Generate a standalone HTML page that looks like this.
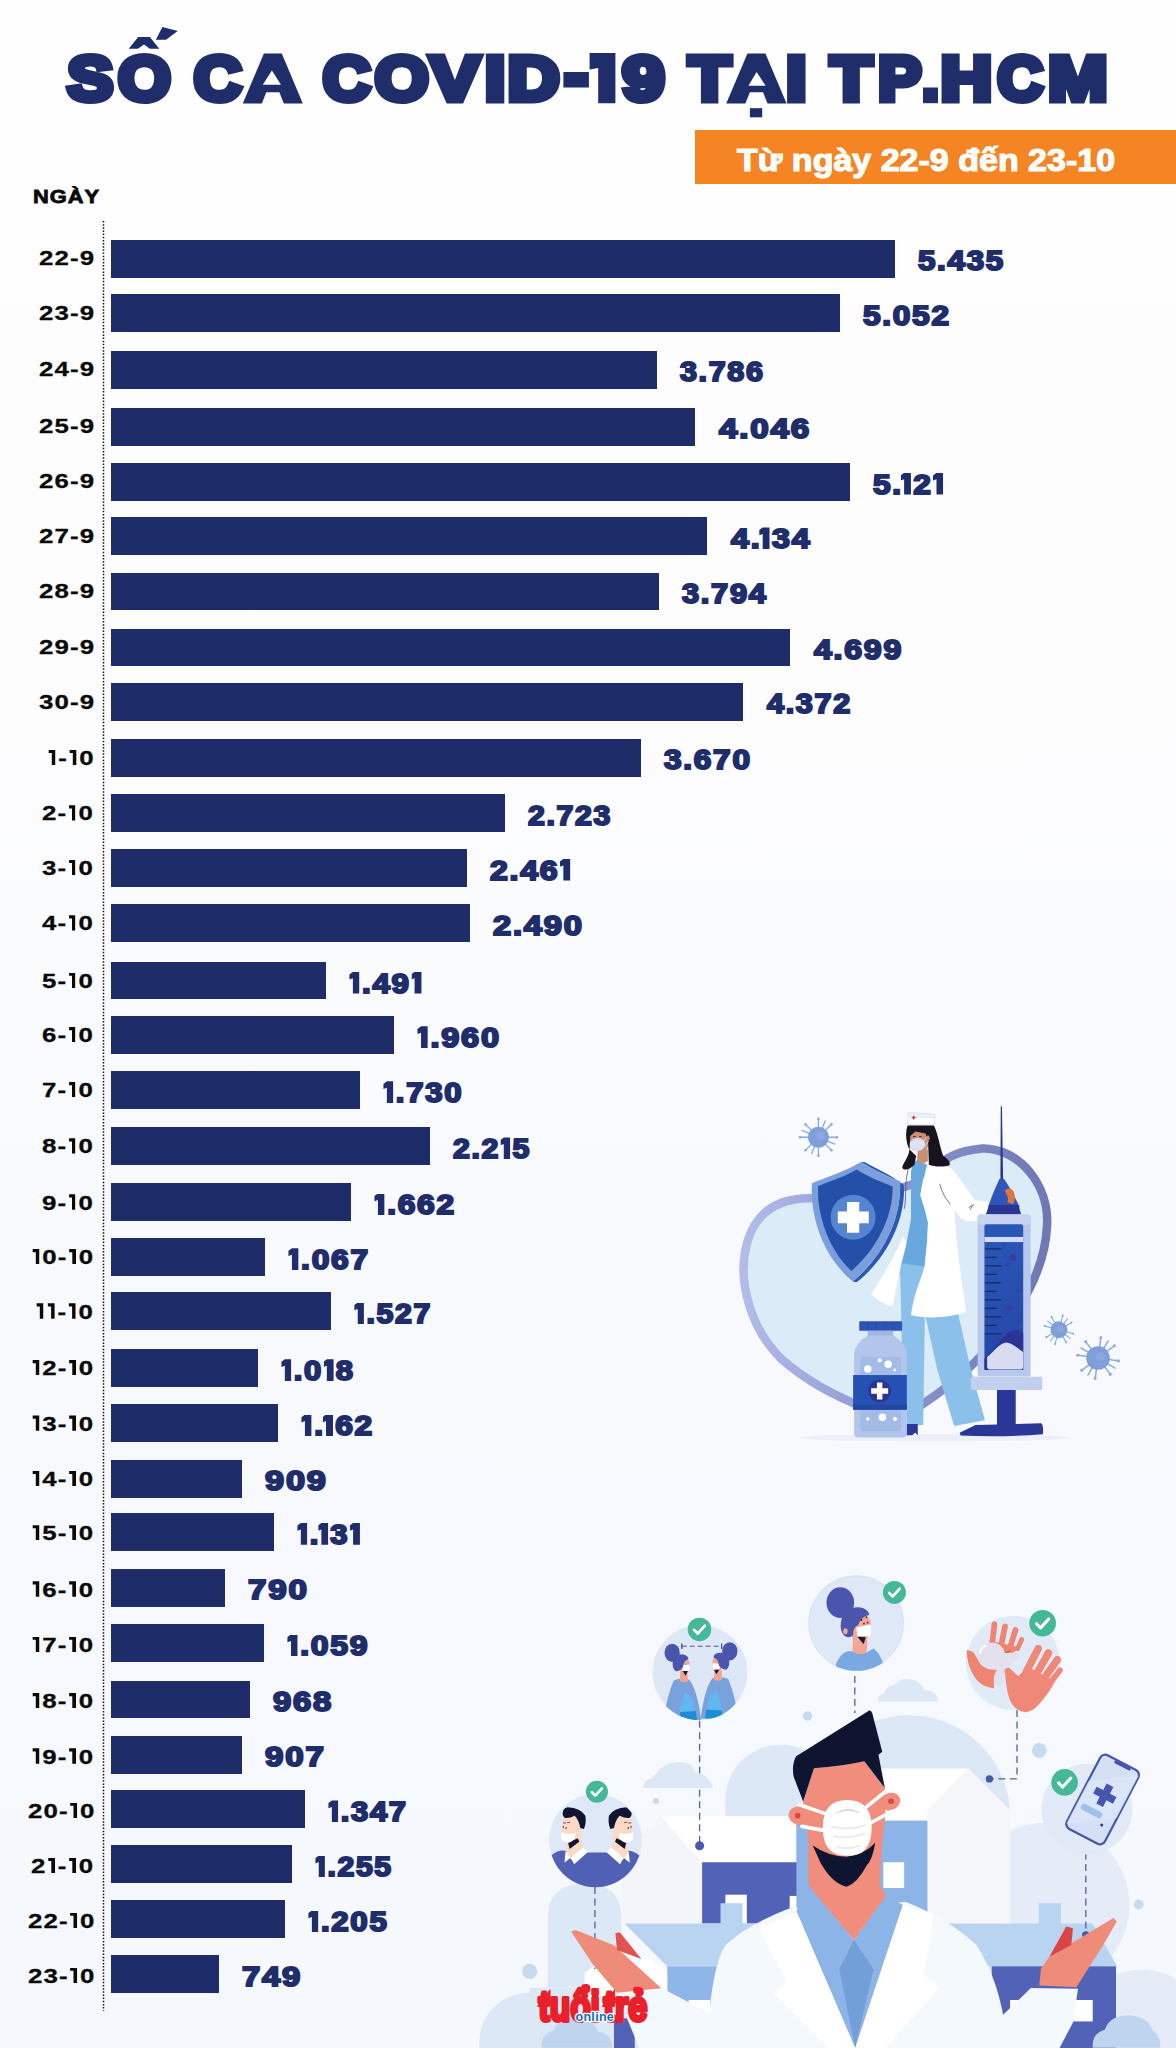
<!DOCTYPE html>
<html lang="vi"><head><meta charset="utf-8"><title>Số ca COVID-19 tại TP.HCM</title>
<style>
html,body{margin:0;padding:0}
body{width:1176px;height:2048px;position:relative;overflow:hidden;font-family:"Liberation Sans",sans-serif;
background:linear-gradient(180deg,#fefefe 0px,#fdfdfe 700px,#f7f9fd 1300px,#f5f8fd 2048px)}
.banner{position:absolute;left:694.8px;top:129.8px;width:482px;height:54px;background:#f58423}
.btxt{position:absolute;left:737.0px;top:141.2px;font-weight:bold;font-size:31px;line-height:40px;-webkit-text-stroke:1.2px #fff;color:#fff;white-space:nowrap;transform-origin:0 50%;transform:scaleX(1.0971)}
.ngay{position:absolute;left:33.4px;top:185.3px;font-weight:bold;font-size:19px;line-height:24px;letter-spacing:0.8px;-webkit-text-stroke:0.8px #0a0a0a;color:#0a0a0a;white-space:nowrap;transform-origin:0 50%;transform:scaleX(1.1518)}
.bar{position:absolute;left:110.8px;height:37.9px;background:#1e2d69}
.day{position:absolute;font-weight:bold;font-size:21px;line-height:24px;letter-spacing:0.9px;-webkit-text-stroke:0.3px #0a0a0a;color:#0a0a0a;white-space:nowrap;transform-origin:0 50%;transform:scaleX(1.23)}
.day i{display:inline-block;overflow:hidden;font-size:0;letter-spacing:0;width:5.8px;height:15.3px;background:#0a0a0a;clip-path:polygon(0 0,100% 0,100% 100%,47% 100%,47% 21%,0 21%);margin:0 2.2px -0.15px 1.2px}
.val{position:absolute;font-weight:bold;font-size:27.5px;line-height:34px;letter-spacing:1.5px;-webkit-text-stroke:2px #1f2d6b;color:#1f2d6b;white-space:nowrap;transform-origin:0 50%;transform:scaleX(1.135)}
.val i{display:inline-block;overflow:hidden;font-size:0;letter-spacing:0;width:9.1px;height:21.7px;background:#1f2d6b;clip-path:polygon(33.3% 0,100% 0,100% 100%,33.3% 100%,33.3% 30%,0 36%,0 12%);margin:0 1.9px -1px 0.4px}
.val i.p{margin-left:-1.9px}
svg{position:absolute;left:0;top:0}
</style></head><body>
<div class="banner"></div><div class="btxt">Từ ngày 22-9 đến 23-10</div>
<div class="ngay">NGÀY</div>
<svg width="1176" height="2048" viewBox="0 0 1176 2048"><g font-family="Liberation Sans, sans-serif" fill="#1f2d6b" stroke="#1f2d6b" font-weight="bold" font-size="63" stroke-width="7" stroke-linejoin="miter" stroke-miterlimit="2"><text transform="translate(67.46,100.2) scale(1.0822,1)">S</text><text transform="translate(118.37,100.2) scale(1.0686,1)">O</text><text transform="translate(193.94,100.2) scale(1.0408,1)">C</text><text transform="translate(246.64,100.2) scale(1.1471,1)">A</text><text transform="translate(322.94,100.2) scale(1.0408,1)">C</text><text transform="translate(375.09,100.2) scale(1.0922,1)">O</text><text transform="translate(430.28,100.2) scale(1.1700,1)">V</text><text transform="translate(485.05,100.2) scale(1.1500,1)">I</text><text transform="translate(507.87,100.2) scale(1.1333,1)">D</text><text transform="translate(622.39,100.2) scale(1.1946,1)">9</text><text transform="translate(688.86,100.2) scale(1.0864,1)">T</text><text transform="translate(730.26,100.2) scale(1.1529,1)">A</text><text transform="translate(786.15,100.2) scale(1.1500,1)">I</text><text transform="translate(830.43,100.2) scale(1.0773,1)">T</text><text transform="translate(878.28,100.2) scale(1.0238,1)">P</text><text transform="translate(940.77,100.2) scale(1.1273,1)">H</text><text transform="translate(997.60,100.2) scale(0.9980,1)">C</text><text transform="translate(1048.27,100.2) scale(1.1275,1)">M</text></g><g fill="#1f2d6b"><polygon points="128.7,48.8 138.2,37.1 149.8,37.1 159.3,48.8 149.8,48.8 144,44.6 137.9,48.8"/><polygon points="155.9,39.8 162.4,26.9 177.7,31 166.1,39.8"/><rect x="749.9" y="108.2" width="12.3" height="9.1"/><rect x="563.4" y="72" width="25.5" height="15.5"/><rect x="923" y="87.5" width="15" height="15.7"/><polygon points="589.6,53 615.4,53 615.4,103.2 598.2,103.2 598.2,68 589.6,69.6"/></g><g fill="#fefefe"><polygon points="271.9,70.5 281,84.8 262.8,84.8"/><polygon points="756.6,72 765.6,85.8 748.4,85.8"/></g><line x1="103.5" y1="221" x2="103.5" y2="2011" stroke="#111" stroke-width="1.5" stroke-dasharray="1.5 1.65"/></svg>
<svg width="1176" height="2048" viewBox="0 0 1176 2048">
<defs>
<clipPath id="pg"><rect x="0" y="0" width="1176" height="2048"/></clipPath>
<clipPath id="c1"><circle cx="699.6" cy="1672.7" r="47.5"/></clipPath>
<clipPath id="c2"><circle cx="856.4" cy="1623" r="47.8"/></clipPath>
<clipPath id="c4"><circle cx="595.5" cy="1841.2" r="46"/></clipPath>
<g id="chk"><circle r="12" fill="#45b899"/><path d="M-5.500 0.500L-1.800 4.200L5.500-3.800" fill="none" stroke="#fff" stroke-width="2.800" stroke-linecap="round" stroke-linejoin="round"/></g>
</defs>
<g transform="translate(456 1700) scale(0.61224)">
<!-- clouds -->
<g fill="#e5ecf8"><circle cx="965" cy="335" r="135"/><circle cx="1120" cy="545" r="105"/><path d="M900 250H1000V570H900Z"/></g>
<g fill="#dde8f6">
<circle cx="740" cy="190" r="165"/><circle cx="530" cy="163" r="90"/><path d="M440 160H900V570H440Z"/>
<circle cx="120" cy="560" r="82"/>
<path d="M150 470V355Q150 300 210 300Q270 300 270 355V470Z"/>
<rect x="120" y="470" width="300" height="100"/>
<path d="M305 143Q307 128 325 128Q330 105 358 102Q388 102 395 128Q418 128 420 143Z"/>
</g>
<!-- buildings -->
<path d="M270 365V255L335 190H555V365Z" fill="#fff"/>
<path d="M270 365V255L335 190L402 265V365Z" fill="#f4f5fa"/>
<rect x="402" y="265" width="160" height="100" fill="#5263b7"/>
<path d="M440 318h35v47h-35z" fill="#fff"/>
<path d="M432 332h36v33h-36z" fill="#b9d4f1"/>
<rect x="545" y="320" width="12" height="20" fill="#fff"/>
<path d="M694 112H837L905 180V365H694Z" fill="#fff"/>
<path d="M770 180L837 112L905 180V365H770Z" fill="#f5f6fa"/>
<rect x="556" y="197" width="214" height="150" fill="#8db4e6"/>
<rect x="698" y="265" width="34" height="42" fill="#fff"/>
<path d="M275 365H1040L1080 435H345Z" fill="#b9d4f1"/>
<rect x="952" y="332" width="36" height="34" fill="#b9d4f1"/>
<rect x="345" y="435" width="100" height="70" fill="#8fb6e8"/>
<path d="M210 500V445L240 425H320L345 445V500Z" fill="#fff"/>
<rect x="875" y="435" width="203" height="135" fill="#5263b7"/>
<rect x="905" y="490" width="35" height="35" fill="#fff"/><rect x="1005" y="490" width="35" height="35" fill="#fff"/>
<rect x="258" y="520" width="34" height="50" fill="#5263b7"/>
<rect x="380" y="490" width="35" height="35" fill="#fff"/>
<!-- small dark clouds bottom -->
<g fill="#bfd5ef"><path d="M140 568Q138 545 160 540Q165 520 195 520Q225 520 232 542Q255 545 255 568Z"/><path d="M1040 568Q1038 545 1060 538Q1068 515 1100 515Q1130 517 1138 540Q1152 548 1150 568Z"/></g>
</g>
<!-- dashed connectors -->
<g fill="none" stroke="#52619f" stroke-width="1.300" stroke-dasharray="7 4.500">
<path d="M699.6 1720.700V1842"/><path d="M854.800 1676V1713"/><path d="M1017 1710V1778.900H993"/><path d="M594.900 1887V1969"/><path d="M1085.800 1841V1931"/>
</g>
<g fill="#4a58a8"><circle cx="699.6" cy="1845.800" r="4.500"/><circle cx="989.400" cy="1778.900" r="3.700"/><circle cx="1085.800" cy="1935" r="3.700"/></g>
<g fill="#c6daf0"><circle cx="807.500" cy="1716" r="4.700"/><circle cx="656" cy="1801" r="3"/><circle cx="1039.300" cy="1750.300" r="7.400"/><circle cx="529.700" cy="1971.300" r="7.600"/><circle cx="1138.700" cy="1904.500" r="4.900"/></g>
<g transform="translate(456 1700) scale(0.61224)">
<!-- doctor: left sleeve + hand -->
<path d="M262 478L335 470L430 520L420 570H300Z" fill="#f3f9fd"/>
<path d="M187.900 378.200L195.400 375.700L257.900 400.700L335.400 470.700L262.900 478.200L222.900 430.700Z" fill="#ef8c79"/>
<path d="M260.400 380.700L267.900 379.700L302.900 423.200L262.900 408.200Z" fill="#e2554f"/>
<!-- right sleeve + hand -->
<path d="M952.700 466.200L955.500 438.700L969.200 419.500L1073.700 356.200L1079.200 361.700L1057.200 400.200L1013.200 469Z" fill="#ef8c79"/>
<path d="M969.200 419.500L996.700 370L1007.700 372.700L1005 400.200Z" fill="#d94545"/>
<path d="M880 470L892 515.700L939 470.600L1016 471.700L1007.700 526.700L985 570H840Z" fill="#f3f9fd"/>
<!-- coat body -->
<path d="M545 340Q480 365 440 400Q415 440 410 570H900Q895 470 850 400Q800 355 735 330Z" fill="#f3f9fd"/>
<!-- shirt -->
<path d="M575 300L556 345L652 568L730 335L702 318L650 392Z" fill="#8db4e6"/>
<path d="M650 392L626 440L652 568L682 440Z" fill="#739fd8"/>
<!-- lapels -->
<path d="M556 345L495 372L540 460L520 480L610 570H652Z" fill="#fff"/>
<path d="M730 335L780 350L765 450L790 470L700 570H652Z" fill="#fff"/>
<!-- face / neck -->
<path d="M584.700 111.500Q630 108 667 100L700.400 143.700L701.400 190L696 232L692 300L702 320L650 392L583 312L575.400 300L575.400 229L567 165.600Z" fill="#f08d7c"/>
<ellipse cx="561" cy="189" rx="18" ry="15" fill="#f08d7c" transform="rotate(12 561 189)"/><ellipse cx="709" cy="166" rx="17" ry="14" fill="#f08d7c" transform="rotate(-25 709 166)"/>
<ellipse cx="558" cy="189" rx="4.500" ry="5" fill="#d9474a"/><ellipse cx="710.500" cy="165.500" rx="5" ry="4.500" fill="#d9474a"/>
<!-- beard -->
<path d="M582.600 237.500Q610 256 638 256Q666 254 684.700 233.300Q680 262 671 270Q655 300 638 305Q615 300 596 267Z" fill="#0f1530"/>
<!-- hair -->
<path d="M674.300 17.700Q678 16 680 22L696.200 84.400L690 89.600L700.400 143.700L667 100Q630 108 584.700 111.500L567 165.600L551.400 125Q548 105 555.600 91.700Z" fill="#0f1530"/>
<!-- mask -->
<path d="M604.500 186L561 171M600.400 213L565 206.500M667 177.500L702 149M677.400 200.500L713 181.500" stroke="#fff" stroke-width="6" stroke-linecap="round"/>
<path d="M639 163.500Q679 163.500 679 208.500Q679 254.500 639 254.500Q599 254.500 599 208.500Q599 163.500 639 163.500Z" fill="#fff"/>
<path d="M612 207Q640 214 670 204M616 222Q640 228 668 218M622 240Q640 245 660 238" fill="none" stroke="#e9ebee" stroke-width="3"/>
<path d="M616 188Q640 168 662 186Q640 176 616 188Z" fill="#dcdde0"/>
</g>
<path d="M877.700 1701.400Q877 1695 884 1693.500Q886 1686 895 1684.500Q901 1677.500 910 1679.500Q920 1679 924 1690Q932 1690 936 1695Q938.500 1698 938.300 1701.400Z" fill="#dde8f6"/>
<path d="M644.500 1788Q644 1781 651 1780Q654 1773 663 1772Q668 1762 680 1762Q692 1762 696 1773Q704 1773 708 1779Q712 1782 711.800 1788Z" fill="#dde8f6"/>

<!-- icon 1: two women (zoom 9.8 base 640,1610) -->
<circle cx="700" cy="1672.400" r="47.400" fill="#dee7f6"/>
<g clip-path="url(#c1)"><g transform="translate(640 1610) scale(0.10204)">
<g id="w1">
<path d="M330 690Q400 660 480 680Q560 770 600 1080H230Q260 860 330 690Z" fill="#78a2dc"/>
<path d="M440 800L385 1010L560 1070L510 860Z" fill="#62b8ee"/>
<path d="M395 1000L545 990L560 1075L380 1075Z" fill="#1f8dd6"/>
<path d="M395 600L465 610L470 700Q430 720 390 690Z" fill="#f2a494"/>
<path d="M395 470Q470 450 485 520L480 600L400 640Z" fill="#f2a494"/>
<path d="M415 595L470 598L447 645Z" fill="#1b1d33"/>
<path d="M412 545L480 535Q492 570 478 598L415 598Z" fill="#fff"/>
<ellipse cx="315" cy="420" rx="75" ry="90" fill="#4a55ae"/>
<path d="M320 520Q330 430 420 435Q470 440 475 480Q430 490 420 560Q400 600 350 600Q315 570 320 520Z" fill="#4a55ae"/>
</g>
<use href="#w1" transform="translate(1195 -15) scale(-1 1)"/>
<path d="M410 355H800M410 330V382M800 330V382" stroke="#3b4a8c" stroke-width="9" stroke-dasharray="48 30" fill="none"/>
<path d="M410 330V382M800 330V382" stroke="#3b4a8c" stroke-width="9" fill="none"/>
</g></g>
<use href="#chk" transform="translate(699.500 1629.400) scale(0.98)"/>
<!-- icon 2: woman (zoom 9.8 base 800,1570) -->
<circle cx="856.100" cy="1623.100" r="47.400" fill="#dfe8f7" stroke="#d8e2f3" stroke-width="1"/>
<g clip-path="url(#c2)"><g transform="translate(800 1570) scale(0.10204)">
<path d="M340 960Q380 820 470 795L650 810L720 770Q790 820 830 960V1000H340Z" fill="#7aa8e2"/>
<path d="M520 640L660 660L655 800Q590 850 515 800Z" fill="#f4a795"/>
<path d="M540 450Q680 420 695 520L690 640L560 700L480 640Z" fill="#f4a795"/>
<path d="M560 650L645 658L622 728Z" fill="#1b1d33"/>
<path d="M552 560L690 535Q705 600 688 648L560 652Z" fill="#fff"/>
<ellipse cx="395" cy="320" rx="135" ry="150" fill="#4a55ae"/>
<path d="M400 520Q420 360 580 365Q670 380 680 440Q600 450 570 540Q520 560 520 640Q470 680 430 640Q390 590 400 520Z" fill="#4a55ae"/>
<ellipse cx="445" cy="600" rx="22" ry="30" fill="#f4a795"/>
<g fill="#3a2030"><circle cx="602" cy="490" r="9"/><circle cx="652" cy="462" r="9"/><circle cx="627" cy="525" r="9"/><circle cx="662" cy="515" r="9"/></g>
</g></g>
<use href="#chk" transform="translate(894.400 1592.400) scale(0.96)"/>
<!-- icon 3: hands (zoom 9.046 base 950,1600) -->
<circle cx="1013" cy="1663" r="47" fill="#e1eaf7"/>
<g transform="translate(950 1600) scale(0.11054)">
<g stroke="#ee8472" stroke-linecap="round" fill="none"><path d="M385 375L402 218M465 400L498 238M545 425L592 272" stroke-width="52"/><path d="M612 440L648 358" stroke-width="44"/></g>
<path d="M345 365L640 430L560 485L500 495L430 440Z" fill="#ee8472"/>
<path d="M480 455L515 480L545 455" stroke="#d9604f" stroke-width="12" fill="none"/>
<path d="M150 455Q215 450 240 520Q290 620 430 625Q385 700 400 800Q290 790 225 700Q155 600 150 455Z" fill="#ee8472"/>
<path d="M250 470Q280 390 400 385Q470 400 500 480Q600 470 640 500Q600 560 540 600Q480 640 470 760Q430 810 400 760Q385 690 425 630Q300 640 255 550Q240 510 250 470Z" fill="#e4e1ef"/>
<path d="M270 480Q280 430 320 415" stroke="#fff" stroke-width="18" fill="none" stroke-linecap="round"/>
<g stroke="#f08878" stroke-linecap="round" fill="none"><path d="M695 640L798 440M785 665L890 480M855 705L972 540" stroke-width="68"/><path d="M905 750L995 635" stroke-width="52"/><path d="M525 645L610 725" stroke-width="62"/></g>
<path d="M497 640Q505 800 540 900Q580 1000 680 1015Q750 1010 790 960Q900 840 945 740L700 600L600 710Z" fill="#f08878"/>
</g>
<use href="#chk" transform="translate(1042.600 1623.200) scale(1.11)"/>
<!-- icon 4: two men (zoom 9.8 base 540,1775) -->
<circle cx="595.600" cy="1840.300" r="46.400" fill="#dee8f6"/>
<g clip-path="url(#c4)"><g transform="translate(540 1775) scale(0.10204)">
<path d="M80 1120V820Q140 750 210 740L470 760H640L880 742Q960 760 1020 830V1120Z" fill="#5060b5"/>
<g id="m1">
<path d="M270 640L400 560L420 720L330 850L250 770Z" fill="#fbd9c5"/>
<path d="M225 420L345 400L400 470L405 600L290 680L215 640Z" fill="#fbd9c5"/>
<path d="M275 665L370 620L385 655L290 725Z" fill="#0f1530"/>
<path d="M205 560Q280 590 350 565Q345 640 290 662Q230 665 210 630Z" fill="#fff"/>
<path d="M225 400Q210 330 270 315Q400 320 445 400Q455 480 430 530L395 520Q380 440 340 400Q280 430 240 420Z" fill="#0f1530"/>
<path d="M250 755L300 810L240 860Z" fill="#fff"/>
<path d="M300 810L420 710L470 755L335 875Z" fill="#fff"/>
<g fill="#3a2030"><circle cx="228" cy="510" r="8"/><circle cx="255" cy="520" r="8"/></g>
<path d="M225 470h30M265 465h30" stroke="#3a2030" stroke-width="7"/>
</g>
<use href="#m1" transform="translate(1120 0) scale(-1 1)"/>
</g></g>
<use href="#chk" transform="translate(596.900 1791.800) scale(0.92)"/>
<!-- icon 5: phone -->
<circle cx="1087" cy="1809.200" r="45.400" fill="#e2eaf7"/>
<g transform="translate(1102.600 1799.500) rotate(27.500)">
<rect x="-21.500" y="-41.500" width="43" height="83" rx="5.500" fill="#d4e0f5" stroke="#4655a8" stroke-width="2.200"/>
<path d="M-21 -10L21 -38V10L-21 38Z" fill="#dde7f8" opacity="0.700"/>
<rect x="-7" y="-41" width="18" height="3.200" rx="1.500" fill="#4655a8"/>
<path d="M-3.800-16h7.600v7.400h7.400v7.600h-7.400v7.400h-7.600v-7.400h-7.400v-7.600h7.400z" fill="#4655b0"/>
<rect x="-16" y="12" width="23" height="6.500" rx="2.500" fill="#9fc0ea"/>
<circle cx="11" cy="23" r="1.500" fill="#39406e"/>
</g>
<use href="#chk" transform="translate(1064.600 1782.400) scale(1.11)"/>
</svg>

<div class="bar" style="top:239.8px;width:784.2px"></div>
<div class="day" style="top:246.4px;left:38.6px">22-9</div>
<div class="val" style="top:244.1px;left:917.9px;transform:scaleX(1.138)">5.435</div>
<div class="bar" style="top:294.4px;width:729.0px"></div>
<div class="day" style="top:301.0px;left:38.6px">23-9</div>
<div class="val" style="top:298.7px;left:862.7px;transform:scaleX(1.149)">5.052</div>
<div class="bar" style="top:350.8px;width:546.3px"></div>
<div class="day" style="top:357.4px;left:38.6px">24-9</div>
<div class="val" style="top:355.1px;left:680.0px;transform:scaleX(1.108)">3.786</div>
<div class="bar" style="top:407.8px;width:583.8px"></div>
<div class="day" style="top:414.4px;left:38.6px">25-9</div>
<div class="val" style="top:412.1px;left:718.7px;transform:scaleX(1.206)">4.046</div>
<div class="bar" style="top:462.7px;width:738.9px"></div>
<div class="day" style="top:469.3px;left:38.6px">26-9</div>
<div class="val" style="top:467.5px;left:872.6px;transform:scaleX(1.149)">5.<i class="p">1</i>2<i>1</i></div>
<div class="bar" style="top:517.3px;width:596.5px"></div>
<div class="day" style="top:524.0px;left:38.6px">27-9</div>
<div class="val" style="top:522.1px;left:731.4px;transform:scaleX(1.171)">4.<i class="p">1</i>34</div>
<div class="bar" style="top:572.5px;width:548.5px"></div>
<div class="day" style="top:579.2px;left:38.6px">28-9</div>
<div class="val" style="top:576.9px;left:682.2px;transform:scaleX(1.121)">3.794</div>
<div class="bar" style="top:628.5px;width:679.5px"></div>
<div class="day" style="top:635.2px;left:38.6px">29-9</div>
<div class="val" style="top:632.9px;left:814.4px;transform:scaleX(1.167)">4.699</div>
<div class="bar" style="top:682.8px;width:631.9px"></div>
<div class="day" style="top:689.5px;left:38.6px">30-9</div>
<div class="val" style="top:687.1px;left:766.7px;transform:scaleX(1.112)">4.372</div>
<div class="bar" style="top:738.8px;width:530.6px"></div>
<div class="day" style="top:746.0px;left:47.2px"><i>1</i>-<i>1</i>0</div>
<div class="val" style="top:743.1px;left:664.3px;transform:scaleX(1.149)">3.670</div>
<div class="bar" style="top:794.2px;width:393.8px"></div>
<div class="day" style="top:801.4px;left:42.3px">2-<i>1</i>0</div>
<div class="val" style="top:798.6px;left:527.5px;transform:scaleX(1.101)">2.723</div>
<div class="bar" style="top:848.8px;width:355.8px"></div>
<div class="day" style="top:856.0px;left:42.3px">3-<i>1</i>0</div>
<div class="val" style="top:853.6px;left:489.5px;transform:scaleX(1.165)">2.46<i>1</i></div>
<div class="bar" style="top:904.2px;width:359.1px"></div>
<div class="day" style="top:911.4px;left:42.3px">4-<i>1</i>0</div>
<div class="val" style="top:908.6px;left:492.8px;transform:scaleX(1.189)">2.490</div>
<div class="bar" style="top:961.6px;width:215.1px"></div>
<div class="day" style="top:968.8px;left:42.3px">5-<i>1</i>0</div>
<div class="val" style="top:966.5px;left:348.8px;transform:scaleX(1.140)"><i>1</i>.49<i>1</i></div>
<div class="bar" style="top:1016.1px;width:283.6px"></div>
<div class="day" style="top:1023.2px;left:42.3px">6-<i>1</i>0</div>
<div class="val" style="top:1021.0px;left:417.3px;transform:scaleX(1.182)"><i>1</i>.960</div>
<div class="bar" style="top:1071.1px;width:249.6px"></div>
<div class="day" style="top:1078.2px;left:42.3px">7-<i>1</i>0</div>
<div class="val" style="top:1076.0px;left:383.3px;transform:scaleX(1.131)"><i>1</i>.730</div>
<div class="bar" style="top:1127.2px;width:319.6px"></div>
<div class="day" style="top:1134.4px;left:42.3px">8-<i>1</i>0</div>
<div class="val" style="top:1132.1px;left:453.3px;transform:scaleX(1.100)">2.2<i>1</i>5</div>
<div class="bar" style="top:1183.3px;width:239.8px"></div>
<div class="day" style="top:1190.5px;left:42.3px">9-<i>1</i>0</div>
<div class="val" style="top:1188.2px;left:373.5px;transform:scaleX(1.154)"><i>1</i>.662</div>
<div class="bar" style="top:1238.0px;width:154.0px"></div>
<div class="day" style="top:1245.2px;left:31.2px"><i>1</i>0-<i>1</i>0</div>
<div class="val" style="top:1242.9px;left:287.7px;transform:scaleX(1.153)"><i>1</i>.067</div>
<div class="bar" style="top:1292.3px;width:220.3px"></div>
<div class="day" style="top:1299.5px;left:34.9px"><i>1</i><i>1</i>-<i>1</i>0</div>
<div class="val" style="top:1297.2px;left:354.0px;transform:scaleX(1.098)"><i>1</i>.527</div>
<div class="bar" style="top:1349.0px;width:146.9px"></div>
<div class="day" style="top:1356.2px;left:31.2px"><i>1</i>2-<i>1</i>0</div>
<div class="val" style="top:1353.9px;left:280.6px;transform:scaleX(1.126)"><i>1</i>.0<i>1</i>8</div>
<div class="bar" style="top:1404.4px;width:167.7px"></div>
<div class="day" style="top:1411.6px;left:31.2px"><i>1</i>3-<i>1</i>0</div>
<div class="val" style="top:1409.3px;left:301.4px;transform:scaleX(1.154)"><i>1</i>.<i class="p">1</i>62</div>
<div class="bar" style="top:1459.7px;width:131.2px"></div>
<div class="day" style="top:1466.9px;left:31.2px"><i>1</i>4-<i>1</i>0</div>
<div class="val" style="top:1464.1px;left:264.9px;transform:scaleX(1.244)">909</div>
<div class="bar" style="top:1512.8px;width:163.2px"></div>
<div class="day" style="top:1521.3px;left:31.2px"><i>1</i>5-<i>1</i>0</div>
<div class="val" style="top:1517.7px;left:296.9px;transform:scaleX(1.126)"><i>1</i>.<i class="p">1</i>3<i>1</i></div>
<div class="bar" style="top:1568.9px;width:114.0px"></div>
<div class="day" style="top:1577.5px;left:31.2px"><i>1</i>6-<i>1</i>0</div>
<div class="val" style="top:1573.3px;left:247.7px;transform:scaleX(1.203)">790</div>
<div class="bar" style="top:1624.3px;width:152.8px"></div>
<div class="day" style="top:1632.8px;left:31.2px"><i>1</i>7-<i>1</i>0</div>
<div class="val" style="top:1629.2px;left:286.5px;transform:scaleX(1.161)"><i>1</i>.059</div>
<div class="bar" style="top:1680.6px;width:139.7px"></div>
<div class="day" style="top:1689.1px;left:31.2px"><i>1</i>8-<i>1</i>0</div>
<div class="val" style="top:1685.0px;left:273.4px;transform:scaleX(1.191)">968</div>
<div class="bar" style="top:1736.0px;width:130.9px"></div>
<div class="day" style="top:1744.5px;left:31.2px"><i>1</i>9-<i>1</i>0</div>
<div class="val" style="top:1740.4px;left:264.6px;transform:scaleX(1.203)">907</div>
<div class="bar" style="top:1790.2px;width:194.4px"></div>
<div class="day" style="top:1798.8px;left:27.5px">20-<i>1</i>0</div>
<div class="val" style="top:1795.1px;left:328.1px;transform:scaleX(1.124)"><i>1</i>.347</div>
<div class="bar" style="top:1845.4px;width:181.1px"></div>
<div class="day" style="top:1854.0px;left:31.2px">2<i>1</i>-<i>1</i>0</div>
<div class="val" style="top:1850.3px;left:314.8px;transform:scaleX(1.097)"><i>1</i>.255</div>
<div class="bar" style="top:1900.3px;width:173.9px"></div>
<div class="day" style="top:1908.8px;left:27.5px">22-<i>1</i>0</div>
<div class="val" style="top:1905.2px;left:307.6px;transform:scaleX(1.135)"><i>1</i>.205</div>
<div class="bar" style="top:1955.3px;width:108.1px"></div>
<div class="day" style="top:1963.8px;left:27.5px">23-<i>1</i>0</div>
<div class="val" style="top:1959.7px;left:241.8px;transform:scaleX(1.193)">749</div>
<svg width="1176" height="2048" viewBox="0 0 1176 2048">
<defs>
<linearGradient id="hg" x1="0" y1="0" x2="1" y2="0"><stop offset="0" stop-color="#b3bbe8"/><stop offset="0.45" stop-color="#8f98d2"/><stop offset="1" stop-color="#6e78b4"/></linearGradient>
<linearGradient id="lq" x1="0" y1="0" x2="0" y2="1"><stop offset="0" stop-color="#2a57b6"/><stop offset="1" stop-color="#2347a8"/></linearGradient>
<g id="virus"><g stroke="#8eabdf" stroke-width="4" stroke-linecap="round"><path d="M0-52V0M0 52V0M-52 0H0M52 0H0M-37-37L0 0M37 37L0 0M-37 37L0 0M37-37L0 0M-48-20L0 0M48 20L0 0M-20 48L0 0M20-48L0 0"/></g><g fill="#8eabdf"><circle cx="0" cy="-54" r="4"/><circle cx="0" cy="54" r="4"/><circle cx="-54" cy="0" r="4"/><circle cx="54" cy="0" r="4"/><circle cx="-38" cy="-38" r="4"/><circle cx="38" cy="38" r="4"/><circle cx="-38" cy="38" r="4"/><circle cx="38" cy="-38" r="4"/></g><circle r="31" fill="#7f9fd9"/><circle cx="6" cy="-4" r="12" fill="#8aa8de"/></g>
</defs>
<g transform="translate(730 1090) scale(0.34014)">
<ellipse cx="600" cy="1022" rx="400" ry="11" fill="#dfe2f3" opacity="0.4"/>
<!-- heart -->
<path d="M600 240C615 215 650 180 742 172C850 170 940 280 932 400C925 560 800 770 560 928C520 955 450 955 400 935C320 905 230 860 150 790C60 700 20 560 50 450C75 360 140 318 235 318C400 318 550 290 600 240Z" fill="#dcebf8" stroke="url(#hg)" stroke-width="25" stroke-linejoin="round"/>
<!-- viruses -->
<use href="#virus" transform="translate(260 139) scale(1)"/>
<use href="#virus" transform="translate(967 705) scale(0.8) rotate(15)"/>
<use href="#virus" transform="translate(1082 788) scale(1.12) rotate(8)"/>
<!-- shield -->
<path d="M395 212C435 234 480 254 511 279C518 379 460 499 372 565L361 563C450 489 505 379 500 269C460 254 420 234 385 212Z" fill="#2c57b3"/>
<path d="M385 212C340 239 280 259 241 274C235 349 260 479 361 563C450 489 505 379 500 269C460 254 420 234 385 212Z" fill="#7b9fdc"/>
<path d="M372 234C340 254 295 269 259 282C255 349 280 459 357 532C430 469 480 374 478 284C440 269 400 252 372 234Z" fill="#2450aa"/>
<circle cx="362" cy="374" r="66" fill="#5585d0"/>
<path d="M344 329h36v28h28v35h-28v28h-36v-28h-27v-35h27z" fill="#fff"/>
<!-- nurse rear leg + shoe -->
<path d="M500 500L575 515L568 985L521 985L505 760Z" fill="#8bc0eb"/>
<path d="M519 982h33v33l-8-8-8 8h-17z" fill="#2b3a9a"/>
<!-- left coat flap -->
<path d="M508 430C480 500 440 560 415 600C440 625 460 632 478 636C490 570 505 500 520 450Z" fill="#fff"/>
<!-- torso -->
<path d="M549.700 206.900L579.700 219.400L567.200 264.400L559.700 309.400L572.200 349.400L582.200 389.400L579.700 444.400L572.200 519.400L504.700 509.400L517.200 459.400L532.200 379.400L532.200 309.400L532.200 239.400L537.200 214.400Z" fill="#69a8de"/>
<path d="M504.700 509.400L572.200 519.400L570 560L498 545Z" fill="#8bc0eb"/>
<!-- stethoscope line -->
<path d="M524 232C512 280 520 320 512 350" fill="none" stroke="#3a3f55" stroke-width="2"/>
<!-- front leg -->
<path d="M573.6 660L669.9 655L708.4 822.6L749.6 971.1L658.9 987.6L609.4 822.6Z" fill="#8bc0eb"/>
<!-- coat body -->
<path d="M584 219L647 227C680 260 700 300 722 324L762 329L762 374C740 389 700 389 682 379L660 355C665 450 680 560 695 652C640 672 580 672 532 662C540 600 560 560 572 520L579.700 444.400L582.200 389.400L572.200 349.400L559.700 309.400L567.200 264.400Z" fill="#fff"/>
<path d="M617 277C622 300 634 320 647 335M703 345l14 -8M706 352l6 -10" fill="none" stroke="#4a4f60" stroke-width="2.2" stroke-linecap="round"/>
<!-- neck/face -->
<path d="M552 174h30v35l-18 10l-14-10z" fill="#c98f74"/>
<rect x="529" y="112" width="54" height="66" rx="16" fill="#c98f74"/>
<!-- hair -->
<path d="M522.2 104.4L599.7 104.4C612.2 129.4 617.2 169.4 627.2 194.4C642.2 204.4 649.7 214.400 644.7 221.9C622.2 226.9 597.2 224.400 584.700 219.400L582.200 150L575 128L545 122L530 135C527.2 194.4 527.2 194.4 527.2 174.4L547.2 194.4L542.2 219.400C527.2 234.400 509.700 239.400 506.2 226.9C512.2 209.400 527.2 194.4 527.2 174.4C517.2 154.4 514.700 124.400 522.2 104.4Z" fill="#17141f"/>
<ellipse cx="551" cy="160" rx="22.500" ry="19" fill="#dde3f6"/>
<path d="M532 150Q555 140 572 152M536 170Q553 178 570 168" fill="none" stroke="#c6cdea" stroke-width="1.5"/>
<path d="M570 150L582 134M572 168L584 150" stroke="#e8ecf8" stroke-width="2" fill="none"/>
<ellipse cx="582" cy="142" rx="5" ry="8" fill="#c98f74"/>
<path d="M538 137h8M556 137h8" stroke="#2a1d25" stroke-width="2.5"/>
<!-- hat -->
<path d="M524.700 66.900L602.2 71.900L600.700 101L521.2 101Z" fill="#fff" stroke="#cfdcf0" stroke-width="2"/>
<path d="M524.700 66.900L602.2 71.900L601.500 82L523.500 77Z" fill="#eef3fb" stroke="#cfdcf0" stroke-width="1.5"/>
<path d="M540 75v12M534 81h12" stroke="#d8303a" stroke-width="3.5"/>
<!-- syringe -->
<path d="M796 48L799.500 48L803 264L795 264Z" fill="#2c3690"/>
<path d="M792 262L806 262L830 300L852 345L758 345L775 300Z" fill="#2f56b6"/>
<path d="M752 366L856 366L848 338L762 338Z" fill="#2a3594"/>
<!-- hand -->
<path d="M808 296C815 286 830 288 834 300C840 312 838 328 832 336L815 330C822 318 812 306 808 296Z" fill="#d9773f"/>
<rect x="728" y="366" width="156" height="476" rx="8" fill="#b8c7ec"/>
<rect x="728" y="366" width="156" height="30" rx="8" fill="#c7d3f1"/>
<rect x="748" y="395" width="114" height="428" rx="6" fill="url(#lq)"/>
<rect x="748" y="432" width="114" height="15" fill="#d3daf3"/>
<path d="M748 790C770 770 790 740 812 718C835 700 855 705 862 715L862 823L748 823Z" fill="#2b3494"/>
<path d="M756 785C775 770 790 745 812 742C835 745 850 765 862 770L862 812Q862 822 852 822L766 822Q756 822 756 812Z" fill="#d9dcf0"/>
<g stroke="#1a2768" stroke-width="3.5"><path d="M750 467h48M750 492h34M750 517h48M750 542h34M750 567h48M750 592h34M750 617h48M750 642h34M750 667h48M750 692h34M750 717h48"/></g>
<g fill="#3a3f9e"><circle cx="832" cy="493" r="10"/><circle cx="815" cy="512" r="6"/><circle cx="820" cy="640" r="10"/><circle cx="850" cy="590" r="5"/><circle cx="850" cy="680" r="5"/><circle cx="772" cy="740" r="5"/><circle cx="806" cy="455" r="4"/></g>
<rect x="708" y="843" width="210" height="39" rx="4" fill="#c3cfee"/>
<rect x="785" y="882" width="55" height="108" fill="#2b3797"/>
<path d="M675 1008L722 985L915 980Q922 985 920 1012Q800 1022 678 1016Z" fill="#2b3797"/>
<!-- bottle -->
<rect x="380" y="680" width="126" height="28" rx="2" fill="#2c55b5"/>
<path d="M405 682v24M430 682v24M455 682v24M480 682v24" stroke="#2447a2" stroke-width="2"/>
<rect x="405" y="708" width="75" height="18" fill="#9fb6e4"/>
<path d="M365 775Q365 748 405 722L480 722Q520 748 520 775L520 1010Q520 1022 508 1022L377 1022Q365 1022 365 1010Z" fill="#b3c5ea"/>
<rect x="383" y="785" width="120" height="218" rx="10" fill="#a2bbe7"/>
<rect x="362" y="838" width="158" height="102" fill="#2552b2"/>
<rect x="362" y="925" width="158" height="15" fill="#2247a3"/>
<circle cx="440" cy="885" r="33" fill="#2b3494"/>
<path d="M432 860h16v17h17v16h-17v17h-16v-17h-17v-16h17z" fill="#fff"/>
<g fill="#fff"><circle cx="405" cy="820" r="11"/><circle cx="465" cy="806" r="11"/><circle cx="440" cy="795" r="6"/><circle cx="484" cy="823" r="4"/><circle cx="448" cy="962" r="11"/><circle cx="405" cy="967" r="5"/><circle cx="485" cy="967" r="6"/></g>
</g>
</svg>

<svg width="1176" height="2048" viewBox="0 0 1176 2048">
<g font-family="Liberation Sans, sans-serif" font-weight="bold">
<g fill="#e8202b" stroke="#e8202b" stroke-width="4" stroke-linejoin="round" font-size="43">
<text transform="translate(538.500 2020.500) scale(0.780 1)">tuổi</text>
<text transform="translate(603.500 2020.500) scale(0.800 1)">trẻ</text>
<path d="M537.500 2006.300L550 1989.800V2006.300ZM602.200 2006.300L614.700 1989.800V2006.300Z" stroke-width="1"/></g>
<text x="575.500" y="2021.300" font-size="12.500" fill="#1a6bb5" stroke="#fff" stroke-width="2.400" paint-order="stroke" stroke-linejoin="round" letter-spacing="0.300">online</text>
</g>
</svg>

</body></html>
